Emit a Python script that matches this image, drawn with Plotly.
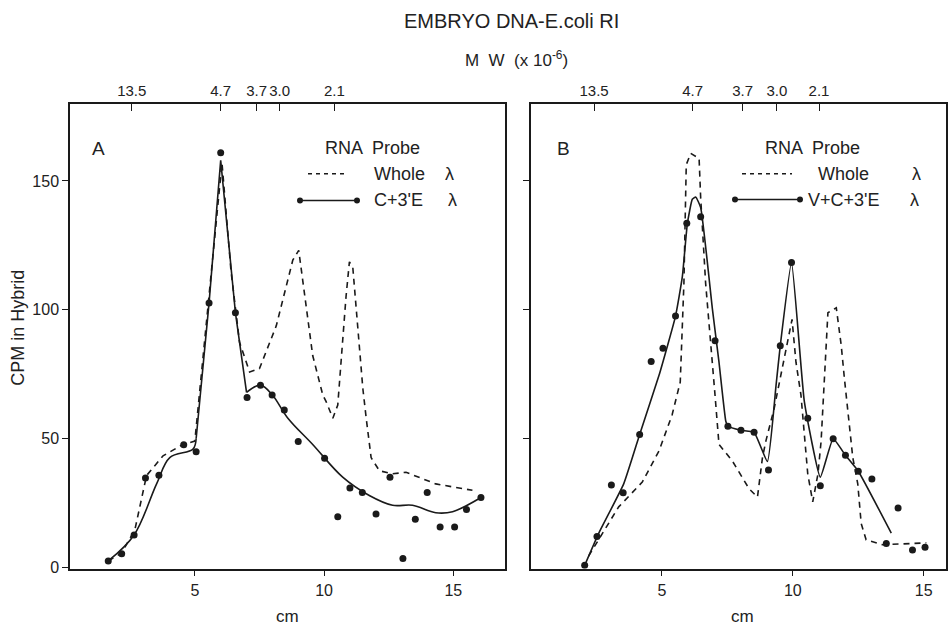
import plotly.graph_objects as go

# ---------------- data ----------------
mw_labels = ["13.5", "4.7", "3.7", "3.0", "2.1"]
mw_pos_a = [2.56, 6.0, 7.39, 8.28, 10.4]
mw_pos_b = [2.41, 6.17, 8.08, 9.39, 11.0]

# Panel A: C+3'E lambda probe (dots)
a_dot_x = [1.65, 2.17, 2.65, 3.09, 3.61, 4.57, 5.05, 5.55, 6.0, 6.57, 7.02, 7.54, 7.99, 8.46,
           9.0, 10.02, 10.53, 11.0, 11.48, 12.01, 12.55, 13.05, 13.53, 13.99, 14.49, 15.05,
           15.51, 16.07]
a_dot_y = [2.6, 5.4, 12.7, 34.8, 35.9, 47.7, 45, 102.7, 161, 98.9, 66, 70.8, 67, 61.2,
           48.9, 42.4, 19.8, 30.9, 29.2, 20.8, 35.1, 3.6, 18.8, 29.2, 15.8, 15.8, 22.6, 27.2]
# Panel A: smooth fitted curve for C+3'E
a_fit1_x = [1.65, 2.65, 3.52, 4.03, 4.93, 5.05]
a_fit1_y = [2.6, 12.7, 32.5, 42.7, 46, 50]
a_fit2_x = [5.05, 5.55, 6.0, 6.57, 7.0]
a_fit2_y = [50, 102.7, 158, 98.9, 68]
a_fit3_x = [7.0, 7.54, 8.0, 8.6, 9.56, 10.72, 11.75, 12.65, 13.42, 14.32, 14.97, 16.07]
a_fit3_y = [68, 70.8, 67, 58, 47.8, 35.1, 28, 24.2, 24.2, 21.3, 21.7, 27.2]
# Panel A: whole lambda probe (dashed)
a_whole_x = [1.65, 2.17, 2.68, 2.87, 3.13, 3.77, 4.54, 5.0, 5.5, 6.05, 6.4, 6.73, 7.12, 7.5,
             8.15, 8.79, 9.02, 9.56, 9.95, 10.08, 10.34, 10.53, 10.85, 10.98, 11.11, 11.3,
             11.5, 11.63, 11.82, 12.14, 12.65, 13.17, 13.68, 14.32, 15.74]
a_whole_y = [2.6, 5.7, 14.7, 23.6, 35.7, 43.4, 47.8, 49.1, 100, 157, 115, 87.4, 75.9, 77.2,
             93.8, 119.3, 123.1, 82.3, 67, 64.4, 58, 63.1, 105.2, 118.6, 116.7, 92.5,
             69.5, 58, 42.7, 37.6, 36.4, 37, 35.1, 32.5, 30]

# Panel B: V+C+3'E lambda probe (dots)
b_dot_x = [2.05, 2.52, 3.07, 3.52, 4.15, 4.59, 5.04, 5.52, 5.95, 6.48, 7.03, 7.52, 8.02, 8.52,
           9.07, 9.52, 9.95, 10.57, 11.05, 11.54, 12.01, 12.5, 13.02, 13.57, 14.02, 14.57, 15.05]
b_dot_y = [0.9, 12.1, 32.1, 29.1, 51.7, 80, 85.1, 97.6, 133.6, 136.1, 88, 54.9, 53.3, 52.5,
           37.9, 86.1, 118.4, 58, 31.8, 50, 43.6, 37.4, 34.4, 9.4, 23.1, 6.9, 7.9]
b_fit_x = [2.05, 2.59, 3.54, 4.15, 4.89, 5.52, 5.78, 5.97, 6.16, 6.29, 6.48, 6.93, 7.18, 7.44,
           7.52, 8.02, 8.52, 9.03, 9.36, 9.52, 9.95, 10.44, 11.05, 11.54, 12.01, 12.5, 13.76]
b_fit_y = [0.9, 13.4, 32.5, 51.7, 74.6, 97.6, 112.9, 133.3, 142.9, 143.8, 139.7, 100.2, 79.7,
           56.8, 54.9, 53.3, 52.5, 41.2, 70.8, 86.1, 118.4, 64.4, 35.1, 50, 43.6, 37.4, 13.4]
b_whole_x = [2.2, 3.35, 4.25, 4.89, 5.39, 5.7, 5.84, 5.93, 6.1, 6.42, 6.48, 6.67, 7.02, 7.18,
             7.69, 8.33, 8.65, 8.84, 8.97, 9.29, 9.97, 10.12, 10.31, 10.38, 10.57, 10.76,
             10.96, 11.08, 11.21, 11.34, 11.66, 11.85, 11.97, 12.04, 12.29, 12.48, 12.61,
             12.8, 13.43, 15.1]
b_whole_y = [4.5, 23.6, 33.2, 45.3, 59.3, 72, 110.3, 156.3, 160.7, 158.8, 143.5, 110.3, 68,
             47.8, 41.4, 30.6, 27.4, 42.7, 49.1, 61.9, 96.3, 79.7, 67, 58, 36.4, 25.5, 36.4,
             49.1, 74.6, 98.9, 100.8, 86.1, 73.4, 67, 42.7, 32.5, 17.2, 10.8, 8.9, 9.6]

y_ticks = [0, 50, 100, 150]
x_ticks = [5, 10, 15]

# ---------------- styling ----------------
W, H = 948, 631
FONT = "Liberation Sans, Arial, sans-serif"
INK = "#1a1a1a"
TXT = "#222222"
DASH = "6px,5px"


def px(x):
    return x / W


def py(y):
    return 1 - y / H


fig = go.Figure()


def line(x, y, xa, ya, dash=None, shape="linear", smooth=1.0):
    kw = dict(color=INK, width=1.6, shape=shape)
    if dash:
        kw["dash"] = dash
    if shape == "spline":
        kw["smoothing"] = smooth
    fig.add_trace(go.Scatter(x=x, y=y, mode="lines", line=kw, xaxis=xa, yaxis=ya,
                             showlegend=False, hoverinfo="skip"))


def dots(x, y, xa, ya):
    fig.add_trace(go.Scatter(x=x, y=y, mode="markers", marker=dict(color=INK, size=7),
                             xaxis=xa, yaxis=ya, showlegend=False))


# panel A
line(a_whole_x, a_whole_y, "x", "y", dash=DASH)
line(a_fit1_x, a_fit1_y, "x", "y", shape="spline", smooth=1.0)
line(a_fit2_x, a_fit2_y, "x", "y")
line(a_fit3_x, a_fit3_y, "x", "y", shape="spline", smooth=1.0)
dots(a_dot_x, a_dot_y, "x", "y")
# panel B
line(b_whole_x, b_whole_y, "x2", "y2", dash=DASH)
line(b_fit_x, b_fit_y, "x2", "y2", shape="spline", smooth=0.4)
dots(b_dot_x, b_dot_y, "x2", "y2")

dom_y = [py(576), py(105)]
dom_a = [px(70), px(505)]
dom_b = [px(531), px(946)]
rng_y = [-0.4, 180]
rng_a = [0.17, 17.0]
rng_b = [0.0, 15.85]
tickfont = dict(family=FONT, size=16, color=TXT)
topfont = dict(family=FONT, size=15, color=TXT)
axline = dict(showline=True, linecolor=INK, linewidth=1.5, showgrid=False, zeroline=False)

fig.update_layout(
    width=W, height=H, autosize=False,
    margin=dict(l=0, r=0, t=0, b=0),
    paper_bgcolor="white", plot_bgcolor="white",
    xaxis=dict(domain=dom_a, range=rng_a, anchor="y", tickvals=x_ticks, ticks="outside",
               ticklen=6, tickcolor=INK, tickfont=tickfont, mirror=True, **axline),
    yaxis=dict(domain=dom_y, range=rng_y, anchor="x", tickvals=y_ticks, ticks="outside",
               ticklen=6, tickcolor=INK, tickfont=tickfont, mirror=True, **axline),
    xaxis2=dict(domain=dom_b, range=rng_b, anchor="y2", tickvals=x_ticks, ticks="outside",
                ticklen=6, tickcolor=INK, tickfont=tickfont, mirror=True, **axline),
    yaxis2=dict(domain=dom_y, range=rng_y, anchor="x2", tickvals=y_ticks[1:], ticks="outside",
                ticklen=6, tickcolor=INK, showticklabels=False, mirror=True, **axline),
    xaxis3=dict(overlaying="x", side="top", range=rng_a, anchor="y", tickvals=mw_pos_a,
                ticktext=mw_labels, ticks="inside", ticklen=8, tickcolor=INK, tickangle=0,
                ticklabelstandoff=0, tickfont=topfont, **axline),
    xaxis4=dict(overlaying="x2", side="top", range=rng_b, anchor="y2", tickvals=mw_pos_b,
                ticktext=mw_labels, ticks="inside", ticklen=8, tickcolor=INK, tickangle=0,
                ticklabelstandoff=0, tickfont=topfont, **axline),
)
# dummy traces to activate top axes
fig.add_trace(go.Scatter(x=[None], y=[None], xaxis="x3", yaxis="y", showlegend=False))
fig.add_trace(go.Scatter(x=[None], y=[None], xaxis="x4", yaxis="y2", showlegend=False))

ann = []


def text(x, y, s, size=17, xanchor="center", angle=0):
    ann.append(dict(x=px(x), y=py(y), xref="paper", yref="paper", text=s, showarrow=False,
                    xanchor=xanchor, yanchor="middle", textangle=angle,
                    font=dict(family=FONT, size=size, color=TXT)))


text(512, 21, "EMBRYO DNA-E.coli RI", 20)
text(516, 60, "M  W  (x 10<sup>-6</sup>)", 17)
text(287, 624, "cm", 17)
text(742, 624, "cm", 17)
text(18, 332, "CPM in Hybrid", 18, angle=-90)
text(98, 150, "A", 19)
text(563, 150, "B", 19)

# legend A
text(323, 150, "RNA  Probe", 18, "left")
text(372, 176, "Whole", 18, "left")
text(449, 176, "λ", 18)
text(372, 203, "C+3'E", 18, "left")
text(452, 203, "λ", 18)
# legend B
text(763, 150, "RNA  Probe", 18, "left")
text(816, 176, "Whole", 18, "left")
text(916, 176, "λ", 18)
text(806, 203, "V+C+3'E", 18, "left")
text(914, 203, "λ", 18)
fig.update_layout(annotations=ann)

shapes = []


def sample_dash(x0, x1, y):
    shapes.append(dict(type="line", xref="paper", yref="paper", x0=px(x0), x1=px(x1),
                       y0=py(y), y1=py(y), line=dict(color=INK, width=1.4, dash="4px,4px")))


def sample_dots(x0, x1, y):
    shapes.append(dict(type="line", xref="paper", yref="paper", x0=px(x0), x1=px(x1),
                       y0=py(y), y1=py(y), line=dict(color=INK, width=1.5)))
    for xc in (x0, x1):
        shapes.append(dict(type="circle", xref="paper", yref="paper",
                           x0=px(xc - 3), x1=px(xc + 3), y0=py(y + 3), y1=py(y - 3),
                           fillcolor=INK, line=dict(color=INK, width=0)))


sample_dash(308, 348, 176)
sample_dots(300, 357, 203)
sample_dash(742, 792, 176)
sample_dots(735, 800, 202)
fig.update_layout(shapes=shapes)

fig.write_html("out.html", config={"displayModeBar": False},
               post_script="document.body.style.margin='0';document.body.style.overflow='hidden';")
